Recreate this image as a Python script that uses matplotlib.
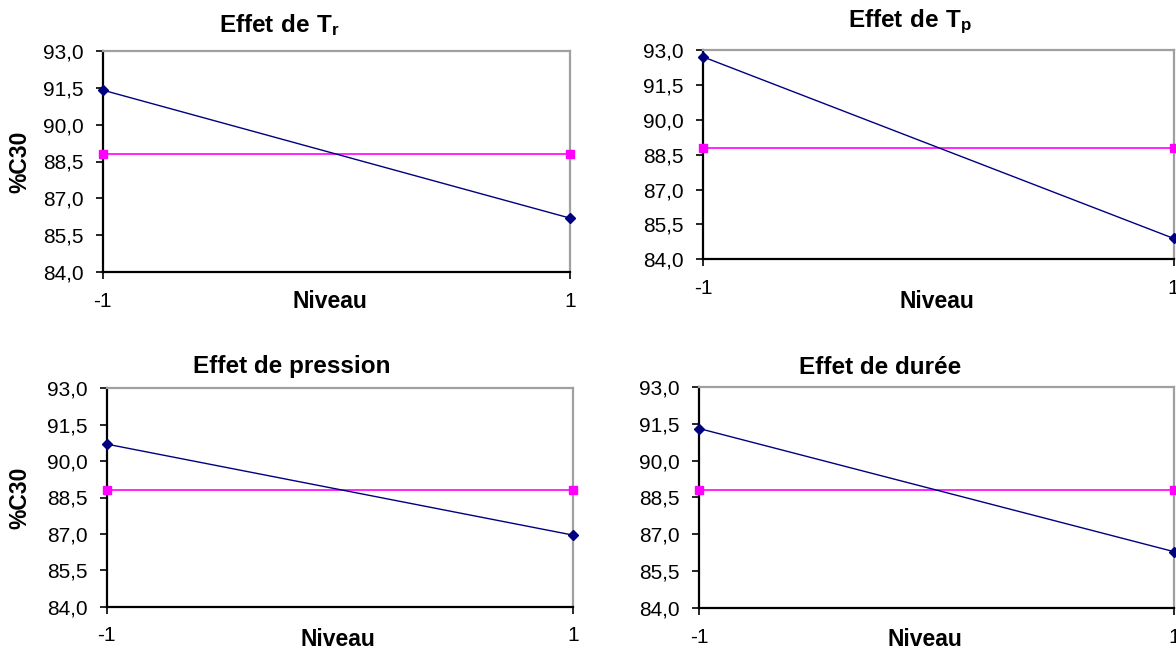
import matplotlib
matplotlib.use("Agg")
import matplotlib.pyplot as plt
from matplotlib.ticker import FuncFormatter

plt.rcParams['font.family'] = ['Liberation Sans', 'DejaVu Sans']
plt.rcParams['mathtext.fontset'] = 'custom'
plt.rcParams['mathtext.rm'] = 'Liberation Sans'
plt.rcParams['mathtext.bf'] = 'Liberation Sans:bold'

# data
niveaux = [-1, 1]
titles = [r"$\mathbf{Effet\ de\ T_r}$", r"$\mathbf{Effet\ de\ T_p}$",
          "Effet de pression", "Effet de durée"]
c30_tr = [91.4, 86.2]
c30_tp = [92.7, 84.9]
c30_pression = [90.7, 86.95]
c30_duree = [91.3, 86.3]
moyenne = [88.8, 88.8]
y_ticks = [84.0, 85.5, 87.0, 88.5, 90.0, 91.5, 93.0]

W, H = 1176, 653
fig = plt.figure(figsize=(W / 100, H / 100), dpi=100)


def px_axes(x0, x1, y0, y1):
    # pixel box (top-left origin) -> figure fraction
    return fig.add_axes([x0 / W, 1 - y1 / H, (x1 - x0) / W, (y1 - y0) / H])


panels = [
    # axes box, series, title pos, show ylabel, niveau pos
    ((102.7, 570, 50.7, 272.3), c30_tr, (280, 25), True, (330, 302)),
    ((703.3, 1173.5, 50, 259.3), c30_tp, (910, 22), False, (937, 302)),
    ((106.7, 573, 388.3, 606.7), c30_pression, (292, 367), True, (338, 640)),
    ((699.3, 1174, 386.7, 608.3), c30_duree, (880, 367), False, (925, 640)),
]

comma = FuncFormatter(lambda v, p: f"{v:.1f}".replace(".", ","))

for (box, serie, tpos, ylab, npos), title in zip(panels, titles):
    ax = px_axes(*box)
    ax.plot(niveaux, moyenne, color='#ff00ff', lw=1.2, marker='s', ms=6,
            clip_on=False, zorder=3)
    ax.plot(niveaux, serie, color='#000080', lw=1.0, marker='D', ms=5,
            clip_on=False, zorder=4)
    ax.set_xlim(-1, 1)
    ax.set_ylim(84, 93)
    ax.set_yticks(y_ticks)
    ax.yaxis.set_major_formatter(comma)
    ax.set_xticks(niveaux)
    ax.set_xticklabels(["-1", "1"])
    ax.tick_params(axis='y', direction='out', length=5, width=1.2, pad=9,
                   labelsize=15, colors='black')
    ax.tick_params(axis='x', direction='out', length=5, width=1.2, pad=9,
                   labelsize=15, colors='black')
    for side in ('left', 'bottom'):
        ax.spines[side].set_color('black')
        ax.spines[side].set_linewidth(1.6)
    for side in ('top', 'right'):
        ax.spines[side].set_color('#a0a0a0')
        ax.spines[side].set_linewidth(1.6)

    fig.text(tpos[0] / W, 1 - tpos[1] / H, title, ha='center', va='center',
             fontsize=17.5, fontweight='bold')
    fig.text(npos[0] / W, 1 - npos[1] / H, "Niveau", ha='center',
             va='center', fontsize=16.5, fontweight='bold')
    if ylab:
        cy = (box[2] + box[3]) / 2
        fig.text(20 / W, 1 - cy / H, "%C30", ha='center', va='center',
                 rotation=90, fontsize=16.5, fontweight='bold')

fig.savefig("out.png", dpi=100, facecolor='white')
